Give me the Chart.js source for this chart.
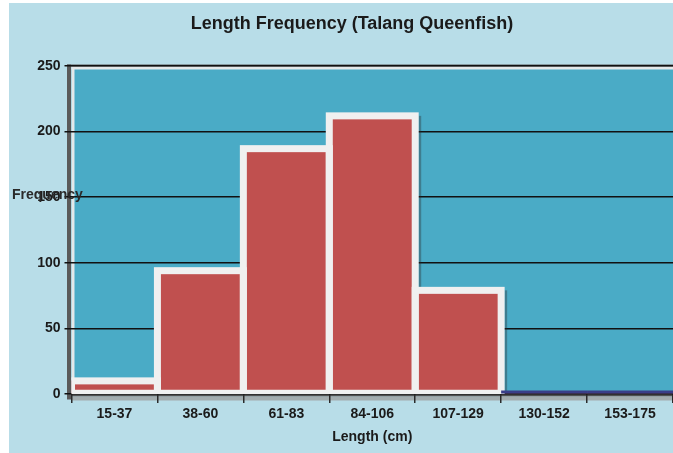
<!DOCTYPE html>
<html>
<head>
<meta charset="utf-8">
<script src="https://cdn.jsdelivr.net/npm/chart.js@4.4.1/dist/chart.umd.min.js"></script>
<style>
  html, body { margin: 0; padding: 0; background: #fff; }
  #wrap { width: 673px; height: 453px; }
</style>
</head>
<body>
<div id="wrap"><canvas id="chart" width="673" height="453"></canvas></div>
<script>
const chartTitle = "Length Frequency (Talang Queenfish)";
const lengthClasses = ["15-37", "38-60", "61-83", "84-106", "107-129", "130-152", "153-175"];
const frequencies = [10, 94, 187, 212, 79, 0, 0];
const freqTicks = [0, 50, 100, 150, 200, 250];

const FONT = '"Liberation Sans", Arial, sans-serif';
const OUTER_BG = "#b8dde8";
const PLOT_BG = "#4aabc6";
const BAR_RED = "#c0504f";
const BAR_EDGE = "#f0f0f0";

Chart.defaults.font.family = FONT;

const decor = {
  id: "decor",
  beforeDraw(chart) {
    const { ctx, chartArea: a, width, height } = chart;
    ctx.save();
    ctx.fillStyle = "#fff";
    ctx.fillRect(0, 0, width, height);
    ctx.fillStyle = OUTER_BG;
    ctx.fillRect(9, 3, width - 9, height - 3);
    // plot area
    ctx.fillStyle = PLOT_BG;
    ctx.fillRect(a.left, a.top, a.right - a.left, a.bottom - a.top);
    // light inner frame
    ctx.fillStyle = "#e4e8e9";
    ctx.fillRect(a.left, a.top, a.right - a.left, 3.5);
    ctx.fillRect(a.left, a.top, 3, a.bottom - a.top);
    // dark frame lines
    ctx.fillStyle = "#5a5a5a";
    ctx.fillRect(a.left - 4.5, a.top - 1.5, a.right - a.left + 4.5, 2);
    ctx.fillRect(a.left - 4.5, a.top - 1.5, 4, a.bottom - a.top + 7);
    // base band under the bars
    ctx.fillStyle = "#505050";
    ctx.fillRect(a.left, a.bottom, a.right - a.left, 2.5);
    ctx.fillStyle = "#a3acae";
    ctx.fillRect(a.left, a.bottom + 2.5, a.right - a.left, 4);
    // title
    ctx.fillStyle = "#1a1a1a";
    ctx.font = "bold 18px " + FONT;
    ctx.textAlign = "center";
    ctx.textBaseline = "middle";
    ctx.fillText(chartTitle, 352, 24);
    ctx.restore();
  },
  beforeDatasetsDraw(chart) {
    // soft shadow to the right of each bar
    const { ctx, chartArea: a } = chart;
    ctx.save();
    ctx.beginPath();
    ctx.rect(a.left, a.top, a.right - a.left, a.bottom - a.top);
    ctx.clip();
    ctx.fillStyle = "rgba(40,40,40,0.35)";
    chart.getDatasetMeta(0).data.forEach((bar, i) => {
      if (frequencies[i] === 0) return;
      const p = bar.getProps(["x", "y", "base", "width"], true);
      ctx.fillRect(p.x + p.width / 2 + 3.5, p.y, 2.5, p.base - p.y);
    });
    ctx.restore();
  },
  afterDatasetsDraw(chart) {
    const { ctx, chartArea: a } = chart;
    const meta = chart.getDatasetMeta(0);
    ctx.save();
    ctx.beginPath();
    ctx.rect(a.left, a.top, a.right - a.left, a.bottom - a.top);
    ctx.clip();
    meta.data.forEach((bar, i) => {
      const p = bar.getProps(["x", "y", "base", "width"], true);
      if (frequencies[i] === 0) {
        ctx.fillStyle = "#3a3e88";
        ctx.fillRect(p.x - p.width / 2, p.base - 3.5, p.width, 3);
        return;
      }
      ctx.strokeStyle = BAR_EDGE;
      ctx.lineWidth = 7;
      ctx.strokeRect(p.x - p.width / 2, p.y, p.width, p.base - p.y);
    });
    ctx.restore();
  },
  afterDraw(chart) {
    const { ctx } = chart;
    ctx.save();
    ctx.fillStyle = "#2a2a2a";
    ctx.font = "bold 14px " + FONT;
    ctx.textAlign = "left";
    ctx.textBaseline = "middle";
    ctx.fillText("Frequency", 12, 195);
    ctx.restore();
  }
};

new Chart(document.getElementById("chart"), {
  type: "bar",
  data: {
    labels: lengthClasses,
    datasets: [{
      label: "Frequency",
      data: frequencies,
      backgroundColor: BAR_RED,
      borderWidth: 0,
      barPercentage: 1,
      categoryPercentage: 1,
    }],
  },
  options: {
    responsive: false,
    animation: false,
    devicePixelRatio: 1,
    layout: { padding: { top: 66, right: 0, bottom: 0, left: 0 } },
    plugins: {
      legend: { display: false },
      title: { display: false },
      tooltip: { enabled: false },
    },
    scales: {
      x: {
        afterFit: (s) => { s.height = 59; },
        grid: { display: true, drawOnChartArea: false, offset: true, tickLength: 9, color: "#2a2a2a", lineWidth: 1.5 },
        border: { display: false },
        ticks: { color: "#1a1a1a", font: { size: 14, weight: "bold" }, padding: 3 },
        title: { display: true, text: "Length (cm)", color: "#1a1a1a", font: { size: 14, weight: "bold" }, padding: { top: 0, bottom: 7 } },
      },
      y: {
        min: 0,
        max: 250,
        afterFit: (s) => { s.width = 71.5; },
        afterBuildTicks: (s) => { s.ticks = freqTicks.map((v) => ({ value: v })); },
        grid: { color: "#111", lineWidth: 1.5, tickLength: 7 },
        border: { display: false },
        ticks: { color: "#1a1a1a", font: { size: 14, weight: "bold" }, padding: 4 },
      },
    },
  },
  plugins: [decor],
});
</script>
</body>
</html>
